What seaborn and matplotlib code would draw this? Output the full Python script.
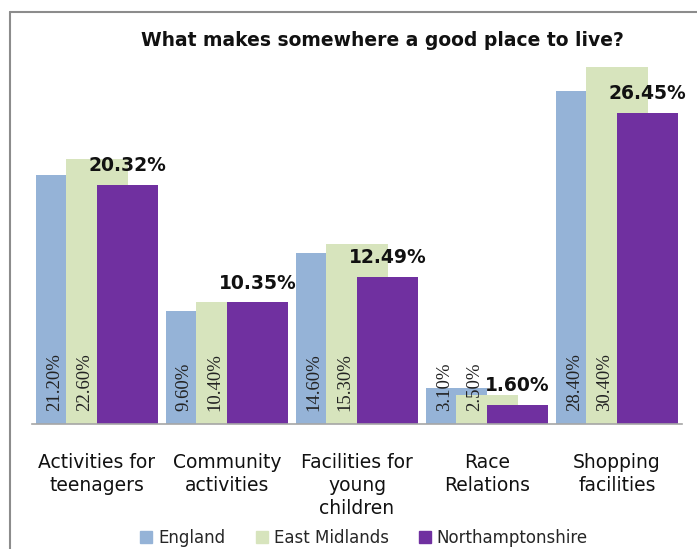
import pandas as pd
import seaborn as sns
import matplotlib.pyplot as plt
from matplotlib.lines import Line2D

categories = ['Activities for\nteenagers', 'Community\nactivities', 'Facilities for\nyoung\nchildren',
              'Race\nRelations', 'Shopping\nfacilities']
regions = ['England', 'East Midlands', 'Northamptonshire']
england = [21.20, 9.60, 14.60, 3.10, 28.40]
east_midlands = [22.60, 10.40, 15.30, 2.50, 30.40]
northants = [20.32, 10.35, 12.49, 1.60, 26.45]
colors = ['#95B3D7', '#D7E4BD', '#7030A0']

rows = []
for region, vals in zip(regions, [england, east_midlands, northants]):
    for cat, v in zip(categories, vals):
        rows.append({'category': cat, 'region': region, 'value': v})
df = pd.DataFrame(rows)

sns.set_style('white')
plt.rcParams['font.family'] = ['DejaVu Sans']

fig = plt.figure(figsize=(6.97, 5.49), dpi=100)
ax = fig.add_axes([32 / 697, 1 - 424 / 549, 650 / 697, 32 * 11.74 / 549])

sns.barplot(data=df, x='category', y='value', hue='region', hue_order=regions,
            palette=colors, width=0.705, gap=0, legend=False, ax=ax, saturation=1,
            linewidth=0, edgecolor='none')

# widen bars so neighbours overlap like the original
for patch in ax.patches:
    w = patch.get_width()
    c = patch.get_x() + w / 2
    patch.set_x(c - w)
    patch.set_width(2 * w)

# labels
for i, cont in enumerate(ax.containers):
    for patch, val in zip(cont.patches, [england, east_midlands, northants][i]):
        if i < 2:
            ax.text(patch.get_x() + patch.get_width() * 0.3, 1.1, f'{val:.2f}%',
                    rotation=90, ha='center', va='bottom', fontsize=13.5,
                    family='Liberation Serif', color='#222222', zorder=5)
        else:
            ax.text(patch.get_x() + patch.get_width() / 2, val + 0.85, f'{val:.2f}%',
                    ha='center', va='bottom', fontsize=13.5, fontweight='bold',
                    color='#111111', zorder=5)

ax.set_xlim(-0.5, 4.5)
ax.set_ylim(0, 32)
ax.set_xlabel('')
ax.set_ylabel('')
ax.set_yticks([])
for s in ['left', 'right', 'top']:
    ax.spines[s].set_visible(False)
ax.spines['bottom'].set_color('#A6A6A6')
ax.spines['bottom'].set_linewidth(1.2)

ax.set_xticks(range(len(categories)))
ax.set_xticklabels(categories, fontsize=13.5, linespacing=1.25, va='top')
ax.tick_params(axis='x', which='major', length=0, pad=21, colors='#111111')
ax.set_xticks([x - 0.5 for x in range(len(categories) + 1)], minor=True)
ax.tick_params(axis='x', which='minor', length=6, width=1.2, color='#A6A6A6', direction='out')

fig.text(382 / 697, 1 - 40 / 549, 'What makes somewhere a good place to live?',
         ha='center', va='center', fontsize=13.5, fontweight='bold', color='#111111')

handles = [Line2D([], [], marker='s', linestyle='', markersize=9, color=c) for c in colors]
fig.legend(handles, regions, loc='center', bbox_to_anchor=(0.522, 1 - 538 / 549), ncol=3,
           frameon=False, fontsize=12, handlelength=0.8, handletextpad=0.3, columnspacing=1.8)

# frame of the chart box
fig.add_artist(Line2D([10 / 697, 10 / 697], [0, 1 - 12 / 549], transform=fig.transFigure,
                      color='#8C8C8C', linewidth=1.5))
fig.add_artist(Line2D([10 / 697, 1], [1 - 12 / 549, 1 - 12 / 549], transform=fig.transFigure,
                      color='#8C8C8C', linewidth=1.5))

fig.savefig('out.png', dpi=100)
